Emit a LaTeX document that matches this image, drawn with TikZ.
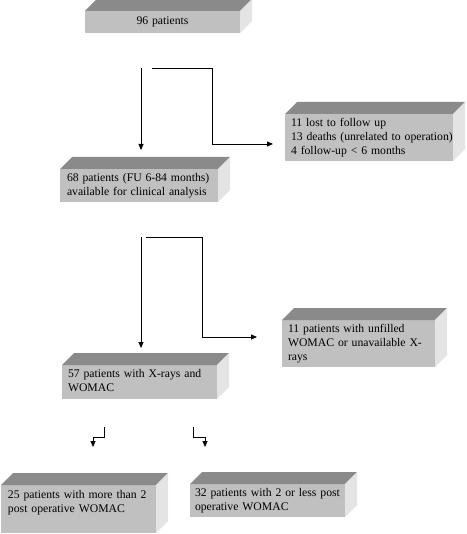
\documentclass[tikz,border=0pt]{standalone}
\usepackage{fontspec}
\setmainfont{Liberation Serif}
\usetikzlibrary{arrows.meta,calc}

\definecolor{frontgray}{RGB}{192,192,192}
\definecolor{topgray}{RGB}{138,138,138}
\definecolor{sidegray}{RGB}{228,228,228}

\newcommand{\boxlines}[1]{\begin{tabular}{@{}l@{}}#1\end{tabular}}

\tikzset{
  slab/.style={fill=frontgray, anchor=north west, align=left, inner xsep=7pt,
    inner ysep=0pt, outer sep=0pt, font=\fontsize{11.7}{13.9}\selectfont},
  flow/.style={draw=black, line width=0.8pt, -{Triangle[length=6pt,width=5pt]}}
}

\begin{document}
\begin{tikzpicture}[x=1pt,y=-1pt]
  \useasboundingbox (0,0) rectangle (466,534);

  % boxes (front faces)
  \node[slab, align=center, text width=141pt, minimum height=22pt] (all) at (85,11) {96 patients};
  \node[slab, text width=144pt, minimum height=33pt] (clin) at (60,169)
    {\boxlines{68 patients (FU 6-84 months)\\available for clinical analysis}};
  \node[slab, inner xsep=6pt, text width=156pt, minimum height=47pt] (lost) at (285,114)
    {\boxlines{11 lost to follow up\\13 deaths (unrelated to operation)\\4 follow-up < 6 months}};
  \node[slab, inner xsep=6pt, text width=141pt, minimum height=47pt] (unfill) at (282,320)
    {\boxlines{11 patients with unfilled\\WOMAC or unavailable X-\\rays}};
  \node[slab, inner xsep=6pt, text width=143pt, minimum height=34pt] (xray) at (62,365)
    {\boxlines{57 patients with X-rays and\\WOMAC}};
  \node[slab, text width=141pt, minimum height=48pt] (more) at (1,485)
    {\boxlines{25 patients with more than 2\\post operative WOMAC\\[12pt]}};
  \node[slab, inner xsep=5pt, text width=145pt, minimum height=33pt] (less) at (190,484)
    {\boxlines{32 patients with 2 or less post\\operative WOMAC}};

  % top and side faces
  \foreach \b in {all,clin,lost,unfill,xray,more,less} {
    \fill[topgray] (\b.north west) -- ++(12,-12) -- ($(\b.north east)+(12,-12)$) -- (\b.north east) -- cycle;
    \fill[sidegray] (\b.north east) -- ++(12,-12) -- ($(\b.south east)+(12,-12)$) -- (\b.south east) -- cycle;
  }

  % connector ends
  \coordinate (a1) at (141,68);
  \coordinate (a1e) at (141,150);
  \coordinate (b1) at (152,68);
  \coordinate (b1e) at (273,144);
  \coordinate (a2) at (141,237);
  \coordinate (a2e) at (141,348);
  \coordinate (b2) at (146,237);
  \coordinate (b2e) at (257,337);
  \coordinate (c1) at (104,427);
  \coordinate (c1e) at (93,447);
  \coordinate (c2) at (193,427);
  \coordinate (c2e) at (205,447);

  % arrows
  \draw[flow] (a1) -- (a1e);
  \draw[flow] (b1) -- (212,68) |- (b1e);
  \draw[flow] (a2) -- (a2e);
  \draw[flow] (b2) -- (202,237) |- (b2e);
  \draw[flow] (c1) -- (104,437) -| (c1e);
  \draw[flow] (c2) -- (193,437) -| (c2e);
\end{tikzpicture}
\end{document}
